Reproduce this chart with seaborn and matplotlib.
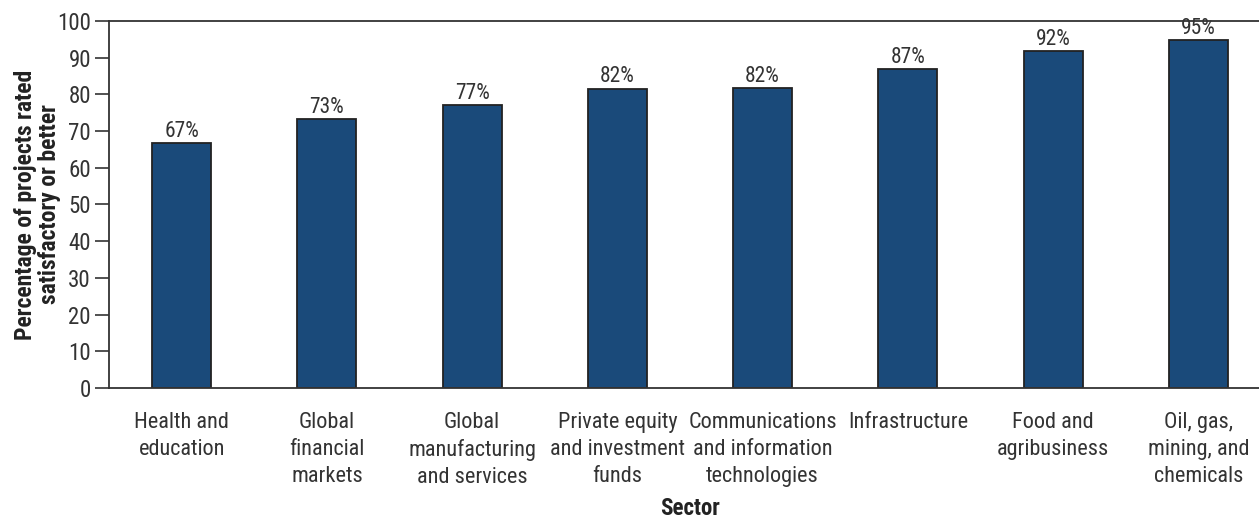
import matplotlib
matplotlib.use("Agg")
import matplotlib.pyplot as plt
from matplotlib import font_manager
import numpy as np
import pandas as pd
import seaborn as sns

# data
sectors = [
    "Health and\neducation",
    "Global\nfinancial\nmarkets",
    "Global\nmanufacturing\nand services",
    "Private equity\nand investment\nfunds",
    "Communications\nand information\ntechnologies",
    "Infrastructure",
    "Food and\nagribusiness",
    "Oil, gas,\nmining, and\nchemicals",
]
pct_rated = [66.7, 73.2, 77.2, 81.6, 81.8, 87.0, 91.9, 94.8]
pct_labels = ["67%", "73%", "77%", "82%", "82%", "87%", "92%", "95%"]
y_ticks = [0, 10, 20, 30, 40, 50, 60, 70, 80, 90, 100]

BAR_COLOR = "#1a4a7a"
TEXT_COLOR = "#333333"
LINE_COLOR = "#333333"


def pick_font(candidates):
    # first condensed family that is actually installed, else a narrow-ish fallback
    for name in candidates:
        try:
            font_manager.findfont(name, fallback_to_default=False)
            return name, 1.0
        except ValueError:
            continue
    return "Roboto", 0.85


sns.set_style("white")
family, scale = pick_font(["Roboto Condensed", "Archivo Narrow", "Liberation Sans Narrow"])
plt.rcParams["font.family"] = [family, "DejaVu Sans"]

df = pd.DataFrame({"Sector": sectors, "Pct": pct_rated})

fig = plt.figure(figsize=(12.59, 5.21), dpi=100)
ax = fig.add_axes([0.0866, 0.2553, 1.0095 - 0.0866, 0.9597 - 0.2553])

sns.barplot(data=df, x="Sector", y="Pct", color=BAR_COLOR, width=0.406,
            edgecolor="#222222", linewidth=1.3, saturation=1, ax=ax)

# value labels on top of bars
for i, (v, lab) in enumerate(zip(pct_rated, pct_labels)):
    ax.text(i, v + 0.3, lab, ha="center", va="bottom", fontsize=15.5 * scale, color=TEXT_COLOR)

ax.set_xlim(-0.5, len(sectors) - 0.5)
ax.set_ylim(0, 100)
ax.set_yticks(y_ticks)

# category ticks sit between the bars
ax.set_xticks(np.arange(len(sectors)))
ax.set_xticklabels(sectors, fontsize=16 * scale, color=TEXT_COLOR, linespacing=1.38, va="top")
ax.set_xticks(np.arange(len(sectors)) - 0.5, minor=True)
ax.tick_params(axis="x", which="major", length=0, pad=17)
ax.tick_params(axis="x", which="minor", length=9, width=1.2, color=LINE_COLOR, direction="out")
ax.tick_params(axis="y", length=10, width=1.2, color=LINE_COLOR, direction="out",
               labelsize=16.5 * scale, labelcolor=TEXT_COLOR, pad=3, left=True)

for side in ["left", "bottom", "top"]:
    ax.spines[side].set_visible(True)
    ax.spines[side].set_color(LINE_COLOR)
    ax.spines[side].set_linewidth(1.3)
ax.spines["right"].set_visible(False)

ax.set_ylabel("Percentage of projects rated\nsatisfactory or better", fontsize=17 * scale,
              fontweight="bold", color="#222222", linespacing=1.1)
ax.yaxis.set_label_coords(-0.041, 0.5)
ax.set_xlabel("Sector", fontsize=16.5 * scale, fontweight="bold", color="#222222")
ax.xaxis.set_label_coords(0.5, -0.297)

fig.savefig("out.png", dpi=100)
